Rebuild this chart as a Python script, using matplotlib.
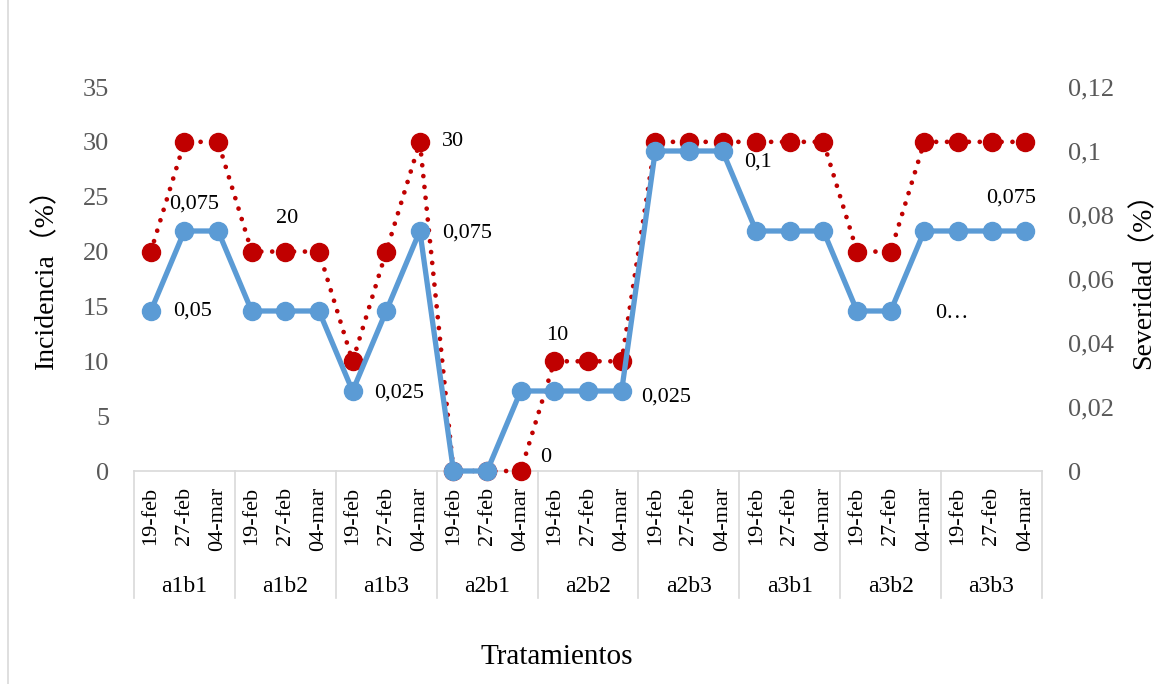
import numpy as np
import matplotlib
matplotlib.use("Agg")
import matplotlib.pyplot as plt
from matplotlib.lines import Line2D

plt.rcParams['font.family'] = ['Liberation Serif', 'Noto Sans CJK SC']

# data
groups = ["a1b1", "a1b2", "a1b3", "a2b1", "a2b2", "a2b3", "a3b1", "a3b2", "a3b3"]
dates = ["19-feb", "27-feb", "04-mar"]
incidencia = [20, 30, 30, 20, 20, 20, 10, 20, 30,
              0, 0, 0, 10, 10, 10, 30, 30, 30,
              30, 30, 30, 20, 20, 30, 30, 30, 30]
severidad = [0.05, 0.075, 0.075, 0.05, 0.05, 0.05, 0.025, 0.05, 0.075,
             0, 0, 0.025, 0.025, 0.025, 0.025, 0.1, 0.1, 0.1,
             0.075, 0.075, 0.075, 0.05, 0.05, 0.075, 0.075, 0.075, 0.075]
left_ticks = [0, 5, 10, 15, 20, 25, 30, 35]
right_ticks = [0, 0.02, 0.04, 0.06, 0.08, 0.10, 0.12]
right_ticklabels = ["0", "0,02", "0,04", "0,06", "0,08", "0,1", "0,12"]

# labels shown in the chart: (index, text, dx, dy, ha) in pixels
inc_labels = [(4, "20", 2, 33, "center"), (8, "30", 22, 0, "left"),
              (11, "0", 19, 14, "left"), (12, "10", 3, 26, "center")]
sev_labels = [(0, "0,05", 22, 0, "left"), (1, "0,075", 10, 27, "center"),
              (6, "0,025", 22, -2, "left"), (8, "0,075", 22, -2, "left"),
              (14, "0,025", 19, -6, "left"), (17, "0,1", 22, -11, "left"),
              (22, "0…", 44, -2, "left"), (26, "0,075", -14, 33, "center")]

grey = "#595959"
red = "#C00000"
blue = "#5B9BD5"

fig = plt.figure(figsize=(11.76, 6.84), dpi=100)
ax = fig.add_axes([134/1176, 1 - 471/684, (1042-134)/1176, 384/684])
ax2 = ax.twinx()

x = np.arange(len(incidencia))
ax.plot(x, incidencia, color=red, lw=3.4, linestyle=(0, (0.01, 2.3)),
        dash_capstyle='round', marker='o', ms=13, zorder=3, clip_on=False)
ax2.plot(x, severidad, color=blue, lw=3.8, marker='o', ms=13, zorder=3,
         clip_on=False)

ax.set_xlim(-0.5, len(x) - 0.5)
ax.set_ylim(0, 35)
ax2.set_ylim(0, 0.12)
ax.set_yticks(left_ticks)
ax2.set_yticks(right_ticks)
ax2.set_yticklabels(right_ticklabels)
ax.set_xticks([])

for a in (ax, ax2):
    for s in a.spines.values():
        s.set_visible(False)
    a.tick_params(axis='y', length=0, labelsize=19, labelcolor=grey)
ax.tick_params(axis='y', pad=18)
ax2.tick_params(axis='y', pad=19)
ax.spines['bottom'].set_visible(True)
ax.spines['bottom'].set_color("#D9D9D9")
ax.spines['bottom'].set_linewidth(1.2)
ax.spines['bottom'].set_zorder(0)

for i, t, dx, dy, ha in inc_labels:
    ax.annotate(t, (i, incidencia[i]), xytext=(dx, dy), textcoords='offset pixels',
                ha=ha, va='center', fontsize=16, color='black')
for i, t, dx, dy, ha in sev_labels:
    ax2.annotate(t, (i, severidad[i]), xytext=(dx, dy), textcoords='offset pixels',
                 ha=ha, va='center', fontsize=16, color='black')

# category axis: dates, groups and separators
tr = ax.get_xaxis_transform()
for i in x:
    ax.annotate(dates[i % 3], (i, 0), xycoords=tr, xytext=(0, -16),
                textcoords='offset pixels', rotation=90, ha='center', va='top',
                fontsize=16, color='black')
sep_bottom = -(598 - 471) / 384
for g in range(len(groups) + 1):
    ax.plot([g*3 - 0.5, g*3 - 0.5], [0, sep_bottom], transform=tr,
            color="#D9D9D9", lw=1.2, clip_on=False, zorder=0)
for g, name in enumerate(groups):
    ax.text(g*3 + 1, -(587 - 471) / 384, name, transform=tr, ha='center',
            va='center', fontsize=17, color='black')

fig.text(557/1176, 1 - 657/684, "Tratamientos", ha='center', va='center', fontsize=21)
fig.text(46/1176, 1 - 272/684, "Incidencia（%）", rotation=90, ha='center',
         va='center', fontsize=20)
fig.text(1143/1176, 1 - 274/684, "Severidad（%）", rotation=90, ha='center',
         va='center', fontsize=20)

fig.add_artist(Line2D([8/1176, 8/1176], [0, 1], color="#D9D9D9", lw=1.2))

fig.savefig("out.png", dpi=100)
